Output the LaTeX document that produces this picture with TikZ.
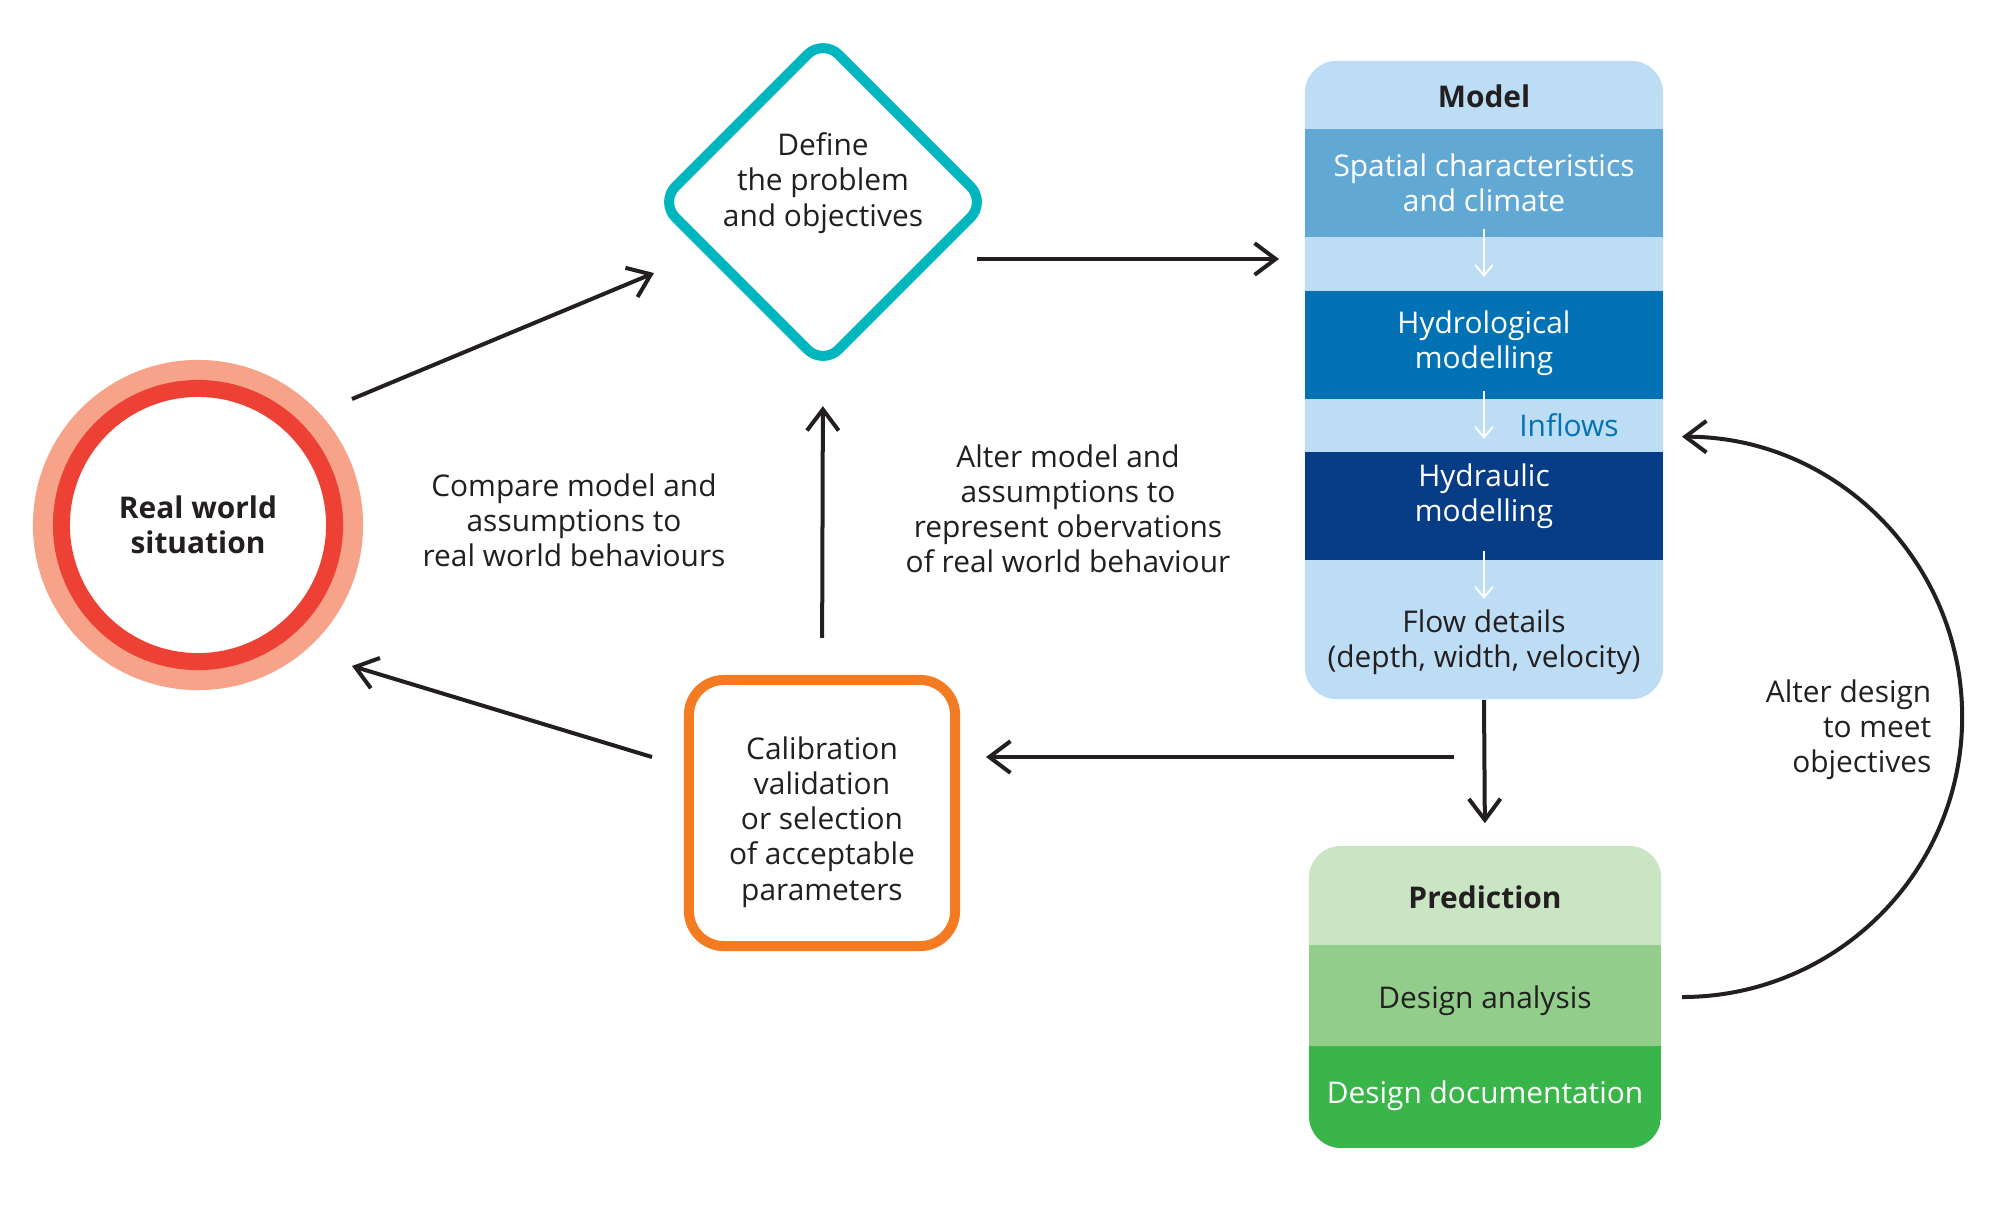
\documentclass[tikz,border=0pt]{standalone}
\usepackage{fontspec}
\setmainfont{Open Sans}
\usetikzlibrary{arrows.meta,shapes.geometric}

\definecolor{ink}{HTML}{231F20}
\definecolor{ringsalmon}{HTML}{F6A38A}
\definecolor{ringred}{HTML}{EE4136}
\definecolor{defteal}{HTML}{00B6BE}
\definecolor{calorange}{HTML}{F47B22}
\definecolor{modlight}{HTML}{BCDDF4}
\definecolor{modspatial}{HTML}{61A8D5}
\definecolor{modhydro}{HTML}{0372B4}
\definecolor{modhydra}{HTML}{073C86}
\definecolor{predlight}{HTML}{CAE5C4}
\definecolor{predmid}{HTML}{93CD8B}
\definecolor{preddark}{HTML}{39B54A}

\tikzset{
  flow/.style={line width=0.04cm, draw=ink, -{Straight Barb[length=6pt,width=9pt]}},
  wflow/.style={line width=0.02cm, draw=white, -{Straight Barb[length=3pt,width=5pt]}},
  txt/.style={align=center, text=ink, font=\fontsize{8.5}{10}\selectfont, inner sep=0pt},
  boldtxt/.style={txt, font=\fontsize{8.5}{10}\selectfont\bfseries},
}

\begin{document}
\begin{tikzpicture}[x=0.01cm, y=-0.01cm]
  \useasboundingbox (0,0) rectangle (2000,1208);
  \fill[white] (0,0) rectangle (2000,1208);

  % real world situation
  \fill[ringsalmon] (198,525) circle (1.65cm);
  \node[circle, fill=white, draw=ringred, line width=0.17cm, minimum size=2.73cm, boldtxt] (real) at (198,525) {Real world\\situation};

  % define the problem
  \node[diamond, aspect=1, draw=defteal, line width=0.1cm, rounded corners=0.22cm, minimum size=3.3cm, inner sep=0pt] (define) at (823,202) {};
  \node[txt] (deftxt) at (823,183) {Define\\the problem\\and objectives};

  % calibration
  \node[rectangle, draw=calorange, line width=0.1cm, rounded corners=0.35cm, minimum width=2.66cm, minimum height=2.66cm] (calib) at (822,813) {};
  \node[txt] (caltxt) at (822,822) {Calibration\\validation\\or selection\\of acceptable\\parameters};

  % model
  \node[rectangle, fill=modlight, rounded corners=0.32cm, minimum width=3.58cm, minimum height=6.38cm, inner sep=0pt] (model) at (1484,380) {};
  \fill[modspatial] (1305,129) rectangle (1663,237);
  \fill[modhydro] (1305,291) rectangle (1663,399);
  \fill[modhydra] (1305,452) rectangle (1663,560);
  \node[boldtxt] (modhead) at (1484,96) {Model};
  \node[txt, text=white] (spatial) at (1484,183) {Spatial characteristics\\and climate};
  \node[txt, text=white] (hydro) at (1484,343) {Hydrological\\modelling};
  \node[txt, text=modhydro] (inflows) at (1569,425) {Inflows};
  \node[txt, text=white] (hydra) at (1484,496) {Hydraulic\\modelling};
  \node[txt] (flowdet) at (1484,642) {Flow details\\(depth, width, velocity)};
  \coordinate (w1a) at (1484,229); \coordinate (w1b) at (1484,277);
  \coordinate (w2a) at (1484,391); \coordinate (w2b) at (1484,439);
  \coordinate (w3a) at (1484,551); \coordinate (w3b) at (1484,599);
  \draw[wflow] (w1a) -- (w1b);
  \draw[wflow] (w2a) -- (w2b);
  \draw[wflow] (w3a) -- (w3b);

  % prediction
  \node[rectangle, fill=predlight, rounded corners=0.32cm, minimum width=3.52cm, minimum height=3.02cm, inner sep=0pt] (pred) at (1485,997) {};
  \begin{scope}
    \clip[rounded corners=0.32cm] (1309,846) rectangle (1661,1148);
    \fill[predmid] (1309,945) rectangle (1661,1046);
    \fill[preddark] (1309,1046) rectangle (1661,1148);
  \end{scope}
  \node[boldtxt] (predhead) at (1485,897) {Prediction};
  \node[txt] (analysis) at (1485,1001) {Design analysis};
  \node[txt, text=white] (docu) at (1485,1096) {Design documentation};

  % notes
  \node[txt] (cmpnote) at (574,520) {Compare model and\\assumptions to\\real world behaviours};
  \node[txt] (altnote) at (1068,509) {Alter model and\\assumptions to\\represent obervations\\of real world behaviour};
  \node[txt, align=right, anchor=east] (desnote) at (1932,730) {Alter design\\to meet\\objectives};

  % connectors
  \coordinate (realNE) at (352,399);
  \coordinate (defSW) at (654,273);
  \coordinate (defE) at (977,259);
  \coordinate (modW) at (1279,259);
  \coordinate (modL) at (1454,757);
  \coordinate (calR) at (986,757);
  \coordinate (calL) at (652,757);
  \coordinate (realSE) at (352,666);
  \coordinate (anaE) at (1682,997);
  \draw[flow] (realNE) -- (defSW);
  \draw[flow] (defE) -- (modW);
  \draw[flow, shorten >=0.22cm] (model.south) -- (pred.north);
  \draw[flow] (modL) -- (calR);
  \draw[flow, shorten <=0.37cm, shorten >=0.34cm] (calib.north) -- (define.south);
  \draw[flow] (calL) -- (realSE);
  \draw[flow] (anaE) arc[start angle=-90, end angle=90, radius=2.8cm];
\end{tikzpicture}
\end{document}
